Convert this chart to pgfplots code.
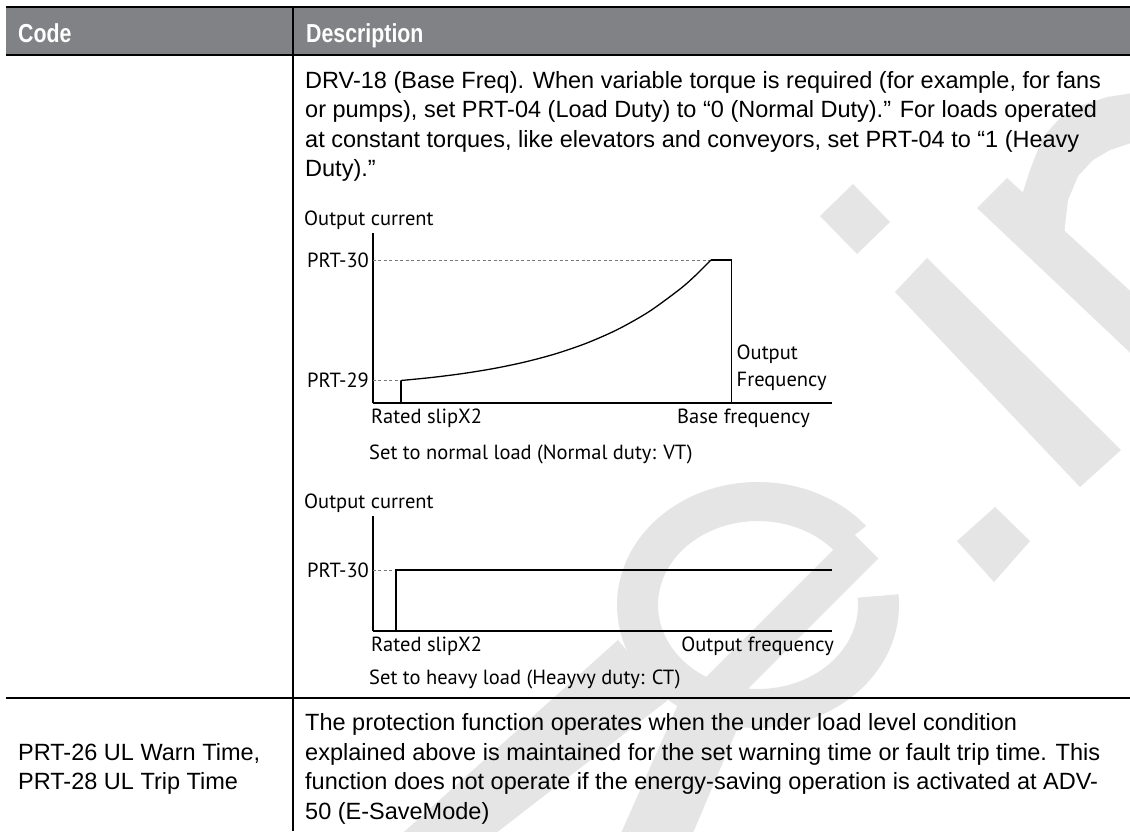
\documentclass[border=0pt]{standalone}
\usepackage{fontspec}
\setmainfont{Liberation Sans}
\newfontfamily\chartfont{PT Sans}
\newfontfamily\hdrfont{Liberation Sans}[FakeStretch=0.82]
\usepackage{pgfplots}
\pgfplotsset{compat=1.18}
\definecolor{hdrgray}{RGB}{128,130,133}
\definecolor{wm}{RGB}{229,229,229}
\definecolor{dashgray}{RGB}{120,120,120}
\newcommand\bodytext{\fontsize{23.5}{28}\selectfont}
\newcommand\ct{\chartfont\fontsize{20.5}{24}\selectfont}
\newcommand\lab[1]{\mbox{\chartfont #1}}
\pgfplotsset{
  diag/.style={
    anchor=south west, scale only axis, width=459.4pt,
    xmin=0, xmax=459.4, ymin=0,
    axis x line=bottom, axis y line=left,
    axis line style={-, line width=1.8pt, black},
    xtick=\empty, major tick length=0pt,
    yticklabel style={inner sep=0pt, xshift=-3.5pt, font=\ct},
    clip=false,
  },
}
\tikzset{lbl/.style={inner sep=0pt, font=\ct}}
\begin{document}
\begin{tikzpicture}[x=1pt,y=-1pt]
\path[use as bounding box] (0,0) rectangle (1130,831);
\fill[white] (0,0) rectangle (1130,831);
% ---------- watermark ----------
\begin{scope}
\clip (0,0) rectangle (1130,831);
\fill[wm] (820,216) -- (853,184) -- (890,222) -- (857,254) -- cycle;
\fill[wm] (895,292) -- (927,258) -- (1121,450) -- (1080,487) -- cycle;
\fill[wm] (957,541) -- (995,507) -- (1030,541) -- (994,582) -- cycle;
\fill[wm] (977,208) -- (1007,178) -- (1140,300) -- (1140,362) -- cycle;
\fill[wm] (1022,195) -- (1030,170) -- (1043,137) -- (1060,118) -- (1077,107) -- (1107,97) -- (1140,92)
   -- (1140,140) -- (1110,150) -- (1093,160) -- (1078,176) -- (1068,200) -- (1064,235) -- cycle;
\fill[wm] (618,640) -- (668,700) -- (487,840) -- (395,840) -- cycle;
\fill[wm] (680,700) -- (740,722) -- (690,840) -- (618,840) -- cycle;
\fill[wm] (851.6,531.6) -- (878.4,558.4) -- (718.4,718.4) -- (691.6,691.6) -- cycle;
\begin{scope}[shift={(758,605)}, y=1pt]
  \fill[wm] (40:141 and 123) arc[start angle=40, end angle=365, x radius=141, y radius=123]
     -- (365:100 and 84) arc[start angle=365, end angle=40, x radius=100, y radius=84] -- cycle;
\end{scope}
\end{scope}
% ---------- table ----------
\fill[hdrgray] (6,7) rectangle (1130,55);
\draw[black, line width=1.2pt] (6,7) -- (1130,7);
\draw[black, line width=2.4pt] (6,55) -- (1130,55);
\draw[black, line width=1.2pt] (293,7) -- (293,831);
\draw[black, line width=2.4pt] (6,698) -- (1130,698);
\node[anchor=base west, inner sep=0pt, text=white] at (18,42.3) {\hdrfont\bfseries\fontsize{26}{30}\selectfont Code};
\node[anchor=base west, inner sep=0pt, text=white] at (306,42.3) {\hdrfont\bfseries\fontsize{26}{30}\selectfont Description};
\node[anchor=base west, inner sep=0pt] at (305,88) {\bodytext DRV-18 (Base Freq). When variable torque is required (for example, for fans};
\node[anchor=base west, inner sep=0pt] at (305,117.5) {\bodytext or pumps), set PRT-04 (Load Duty) to “0 (Normal Duty).” For loads operated};
\node[anchor=base west, inner sep=0pt] at (305,147) {\bodytext at constant torques, like elevators and conveyors, set PRT-04 to “1 (Heavy};
\node[anchor=base west, inner sep=0pt] at (305,176) {\bodytext Duty).”};
\node[anchor=base west, inner sep=0pt] at (305,730.5) {\bodytext The protection function operates when the under load level condition};
\node[anchor=base west, inner sep=0pt] at (305,760) {\bodytext explained above is maintained for the set warning time or fault trip time. This};
\node[anchor=base west, inner sep=0pt] at (305,789.5) {\bodytext function does not operate if the energy-saving operation is activated at ADV-};
\node[anchor=base west, inner sep=0pt] at (305,819) {\bodytext 50 (E-SaveMode)};
\node[anchor=base west, inner sep=0pt] at (18,760) {\bodytext PRT-26 UL Warn Time,};
\node[anchor=base west, inner sep=0pt] at (18,789.5) {\bodytext PRT-28 UL Trip Time};
% ---------- chart 1: normal duty ----------
\begin{axis}[diag, at={(372.6pt,-403pt)}, height=170pt, ymax=170,
  ytick={22.5,143}, yticklabels={\lab{PRT-29},\lab{PRT-30}}]
\addplot[dashgray, line width=0.8pt, dash pattern=on 3pt off 2.5pt] coordinates {(0,143) (338.4,143)};
\addplot[dashgray, line width=0.8pt, dash pattern=on 3pt off 2.5pt] coordinates {(0,22.5) (28.4,22.5)};
\addplot[black, line width=1.3pt] coordinates {(28.4,0) (28.4,22.5)};
\addplot[black, line width=1.3pt, smooth] coordinates {(28.4,22.5) (59.4,25.56) (90.4,29.49) (121.4,34.54) (152.4,41.02) (183.4,49.33) (214.4,60.02) (245.4,73.74) (276.4,91.35) (307.4,113.97) (322.9,127.6) (338.4,143)};
\addplot[black, line width=1.3pt] coordinates {(338.4,143) (359,143) (359,0)};
\node[lbl, anchor=base west] at (axis cs:-68.6,178) {Output current};
\node[lbl, anchor=base west] at (axis cs:363.9,44) {Output};
\node[lbl, anchor=base west] at (axis cs:363.9,17) {Frequency};
\node[lbl, anchor=base west] at (axis cs:-1.6,-20) {Rated slipX2};
\node[lbl, anchor=base east] at (axis cs:437.4,-20) {Base frequency};
\node[lbl, anchor=base west] at (axis cs:-3.6,-56) {Set to normal load (Normal duty: VT)};
\end{axis}
% ---------- chart 2: heavy duty ----------
\begin{axis}[diag, at={(372.6pt,-631pt)}, height=115pt, ymax=115,
  ytick={61}, yticklabels={\lab{PRT-30}}]
\addplot[dashgray, line width=0.8pt, dash pattern=on 3pt off 2.5pt] coordinates {(0,61) (23.4,61)};
\addplot[black, line width=1.3pt] coordinates {(23.4,0) (23.4,61) (459.4,61)};
\node[lbl, anchor=base west] at (axis cs:-68.6,123) {Output current};
\node[lbl, anchor=base west] at (axis cs:-1.6,-20) {Rated slipX2};
\node[lbl, anchor=base east] at (axis cs:461.4,-20) {Output frequency};
\node[lbl, anchor=base west] at (axis cs:-3.6,-53) {Set to heavy load (Heayvy duty: CT)};
\end{axis}
\end{tikzpicture}
\end{document}
